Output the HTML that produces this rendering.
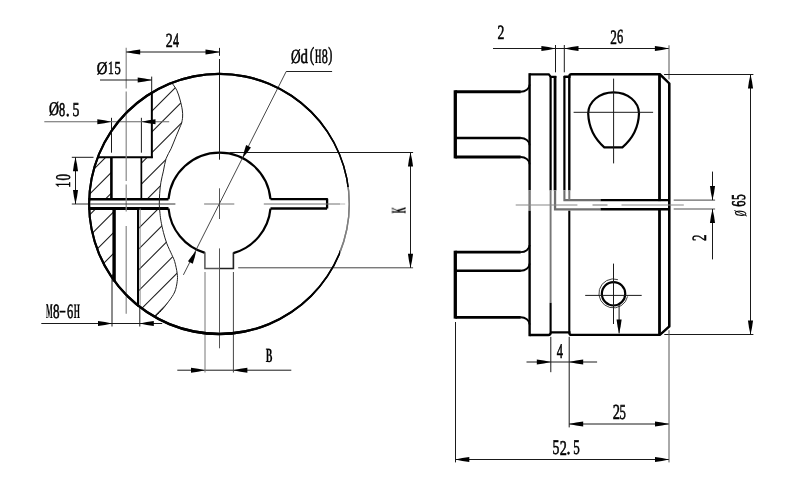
<!DOCTYPE html>
<html><head><meta charset="utf-8"><style>
html,body{margin:0;padding:0;background:#fff;width:800px;height:493px;overflow:hidden}
svg{display:block}
text{fill:#000;font-family:"Liberation Serif",serif}
</style></head><body>
<svg width="800" height="493" viewBox="0 0 800 493" shape-rendering="geometricPrecision">
<rect width="800" height="493" fill="#fff"/>
<defs><clipPath id="sec"><path d="M 171.75,82.76 C 172.59,84.02 175.41,87.43 176.80,90.30 C 178.19,93.17 179.18,96.72 180.10,100.00 C 181.02,103.28 181.88,107.17 182.30,110.00 C 182.72,112.83 182.70,114.83 182.60,117.00 C 182.50,119.17 181.85,122.00 181.70,123.00 C 180.75,125.27 177.78,132.30 176.00,136.60 C 174.22,140.90 172.65,145.15 171.00,148.80 C 169.35,152.45 167.37,154.78 166.10,158.50 C 164.83,162.22 164.27,167.13 163.40,171.10 C 162.53,175.07 161.52,178.58 160.90,182.30 C 160.28,186.02 159.97,189.68 159.70,193.40 C 159.43,197.12 159.25,201.25 159.30,204.60 C 159.35,207.95 159.72,210.73 160.00,213.50 C 160.28,216.27 160.43,218.07 161.00,221.20 C 161.57,224.33 162.43,228.58 163.40,232.30 C 164.37,236.02 165.40,239.77 166.80,243.50 C 168.20,247.23 170.48,251.68 171.80,254.70 C 173.12,257.72 173.80,258.47 174.70,261.60 C 175.60,264.73 176.78,270.20 177.20,273.50 C 177.62,276.80 177.62,278.32 177.20,281.40 C 176.78,284.48 176.10,288.70 174.70,292.00 C 173.30,295.30 171.00,298.13 168.80,301.20 C 166.60,304.27 163.82,307.77 161.50,310.40 C 159.18,313.03 156.00,315.90 154.90,317.00 A 130.1 130.1 0 0 1 171.75,82.76 Z"/></clipPath></defs>
<g clip-path="url(#sec)" stroke="#1a1a1a" stroke-width="1.05">
<line x1="80" y1="120.60" x2="200" y2="0.60"/>
<line x1="80" y1="141.40" x2="200" y2="21.40"/>
<line x1="80" y1="162.20" x2="200" y2="42.20"/>
<line x1="80" y1="183.00" x2="200" y2="63.00"/>
<line x1="80" y1="203.80" x2="200" y2="83.80"/>
<line x1="80" y1="224.60" x2="200" y2="104.60"/>
<line x1="80" y1="245.40" x2="200" y2="125.40"/>
<line x1="80" y1="266.20" x2="200" y2="146.20"/>
<line x1="80" y1="287.00" x2="200" y2="167.00"/>
<line x1="80" y1="307.80" x2="200" y2="187.80"/>
<line x1="80" y1="328.60" x2="200" y2="208.60"/>
<line x1="80" y1="349.40" x2="200" y2="229.40"/>
<line x1="80" y1="370.20" x2="200" y2="250.20"/>
<line x1="80" y1="391.00" x2="200" y2="271.00"/>
<line x1="80" y1="411.80" x2="200" y2="291.80"/>
<line x1="80" y1="432.60" x2="200" y2="312.60"/>
<line x1="80" y1="453.40" x2="200" y2="333.40"/>
<line x1="80" y1="474.20" x2="200" y2="354.20"/>
<line x1="80" y1="495.00" x2="200" y2="375.00"/>
</g>
<rect x="96" y="60" width="55.85" height="97.15" fill="#fff"/>
<rect x="111.4" y="157" width="29.95" height="42.20" fill="#fff"/>
<rect x="85" y="199.2" width="85" height="9.30" fill="#fff"/>
<rect x="114.1" y="208.5" width="23.90" height="111.50" fill="#fff"/>
<path fill="#000" fill-rule="evenodd" d="M 88.100,203.9 a 130.950,131.250 0 1 0 261.900,0 a 130.950,131.250 0 1 0 -261.900,0 Z M 90.100,203.9 a 129.250,128.950 0 1 0 258.500,0 a 129.250,128.950 0 1 0 -258.500,0 Z"/>
<path d="M 270.48,199.1 A 51.2 51.2 0 0 0 168.51,199.2 M 168.52,208.5 A 51.2 51.2 0 0 0 204.9,252.87 M 233.4,253.08 A 51.2 51.2 0 0 0 270.47,208.6" stroke="#000" stroke-width="2.2" fill="none" />
<path d="M 204.9,252.37 L 204.9,268.5 L 218.9,268.5" stroke="#555" stroke-width="1.5" fill="none" />
<path d="M 218.9,268.5 L 233.4,268.5 L 233.4,252.58" stroke="#222" stroke-width="1.6" fill="none" />
<path d="M 270.48,199.1 L 327.1,199.1 L 327.1,208.6" stroke="#000" stroke-width="2.3" fill="none" stroke-linejoin="round"/>
<path d="M 327.1,208.6 L 270.47,208.6" stroke="#000" stroke-width="2.5" fill="none" />
<line x1="88.38" y1="199.20" x2="168.51" y2="199.20" stroke="#000" stroke-width="2.4" />
<line x1="88.38" y1="208.50" x2="168.52" y2="208.50" stroke="#000" stroke-width="2.8" />
<line x1="151.85" y1="92.59" x2="151.85" y2="158.10" stroke="#000" stroke-width="2.0" />
<line x1="97.79" y1="157.15" x2="152.80" y2="157.15" stroke="#000" stroke-width="2.0" />
<line x1="111.40" y1="157.00" x2="111.40" y2="199.20" stroke="#000" stroke-width="2.6" />
<line x1="141.35" y1="157.00" x2="141.35" y2="199.20" stroke="#000" stroke-width="1.7" />
<line x1="114.10" y1="208.50" x2="114.10" y2="281.58" stroke="#000" stroke-width="3.4" />
<line x1="138.00" y1="208.50" x2="138.00" y2="306.55" stroke="#000" stroke-width="2.0" />
<line x1="140.10" y1="208.50" x2="140.10" y2="307.19" stroke="#888" stroke-width="1.0" />
<path d="M 171.75,82.76 C 172.59,84.02 175.41,87.43 176.80,90.30 C 178.19,93.17 179.18,96.72 180.10,100.00 C 181.02,103.28 181.88,107.17 182.30,110.00 C 182.72,112.83 182.70,114.83 182.60,117.00 C 182.50,119.17 181.85,122.00 181.70,123.00 C 180.75,125.27 177.78,132.30 176.00,136.60 C 174.22,140.90 172.65,145.15 171.00,148.80 C 169.35,152.45 167.37,154.78 166.10,158.50 C 164.83,162.22 164.27,167.13 163.40,171.10 C 162.53,175.07 161.52,178.58 160.90,182.30 C 160.28,186.02 159.97,189.68 159.70,193.40 C 159.43,197.12 159.25,201.25 159.30,204.60 C 159.35,207.95 159.72,210.73 160.00,213.50 C 160.28,216.27 160.43,218.07 161.00,221.20 C 161.57,224.33 162.43,228.58 163.40,232.30 C 164.37,236.02 165.40,239.77 166.80,243.50 C 168.20,247.23 170.48,251.68 171.80,254.70 C 173.12,257.72 173.80,258.47 174.70,261.60 C 175.60,264.73 176.78,270.20 177.20,273.50 C 177.62,276.80 177.62,278.32 177.20,281.40 C 176.78,284.48 176.10,288.70 174.70,292.00 C 173.30,295.30 171.00,298.13 168.80,301.20 C 166.60,304.27 163.82,307.77 161.50,310.40 C 159.18,313.03 156.00,315.90 154.90,317.00" stroke="#222" stroke-width="1.0" fill="none" />
<line x1="126.20" y1="47.70" x2="126.20" y2="88.40" stroke="#888" stroke-width="1.2" />
<line x1="126.20" y1="91.60" x2="126.20" y2="181.00" stroke="#888" stroke-width="1.2" />
<line x1="126.20" y1="184.50" x2="126.20" y2="211.40" stroke="#888" stroke-width="1.2" />
<line x1="126.20" y1="226.00" x2="126.20" y2="313.70" stroke="#888" stroke-width="1.2" />
<line x1="219.50" y1="47.90" x2="219.50" y2="55.80" stroke="#1a1a1a" stroke-width="1.0" />
<line x1="219.50" y1="59.00" x2="219.50" y2="159.70" stroke="#1a1a1a" stroke-width="1.0" />
<line x1="219.50" y1="188.30" x2="219.50" y2="219.00" stroke="#555" stroke-width="1.0" />
<line x1="219.50" y1="248.40" x2="219.50" y2="348.30" stroke="#555" stroke-width="1.0" />
<line x1="71.80" y1="204.00" x2="175.40" y2="204.00" stroke="#333" stroke-width="1.0" />
<line x1="204.10" y1="204.00" x2="234.30" y2="204.00" stroke="#888" stroke-width="1.2" />
<line x1="263.80" y1="204.00" x2="345.20" y2="204.00" stroke="#707070" stroke-width="1.0" />
<line x1="111.50" y1="117.80" x2="111.50" y2="152.70" stroke="#1a1a1a" stroke-width="1.0" />
<line x1="141.40" y1="117.80" x2="141.40" y2="152.70" stroke="#1a1a1a" stroke-width="1.0" />
<line x1="151.70" y1="76.60" x2="151.70" y2="92.68" stroke="#1a1a1a" stroke-width="1.0" />
<line x1="126.20" y1="52.00" x2="219.50" y2="52.00" stroke="#1a1a1a" stroke-width="1.0" />
<polygon points="126.20,52.00 133.20,50.47 140.20,49.45 140.20,54.55 133.20,53.53" fill="#000"/>
<polygon points="219.50,52.00 212.50,53.53 205.50,54.55 205.50,49.45 212.50,50.47" fill="#000"/>
<line x1="100.00" y1="80.00" x2="151.70" y2="80.00" stroke="#1a1a1a" stroke-width="1.0" />
<polygon points="151.70,80.00 144.70,81.53 137.70,82.55 137.70,77.45 144.70,78.47" fill="#000"/>
<line x1="44.30" y1="121.70" x2="169.20" y2="121.70" stroke="#666" stroke-width="1.1" />
<polygon points="111.30,121.70 104.30,123.23 97.30,124.25 97.30,119.15 104.30,120.17" fill="#000"/>
<polygon points="141.50,121.70 148.50,120.17 155.50,119.15 155.50,124.25 148.50,123.23" fill="#000"/>
<line x1="71.80" y1="157.30" x2="93.50" y2="157.30" stroke="#1a1a1a" stroke-width="1.0" />
<line x1="75.50" y1="157.30" x2="75.50" y2="204.00" stroke="#1a1a1a" stroke-width="1.0" />
<polygon points="75.50,157.30 77.03,164.30 78.05,171.30 72.95,171.30 73.97,164.30" fill="#000"/>
<polygon points="75.50,204.00 73.97,197.00 72.95,190.00 78.05,190.00 77.03,197.00" fill="#000"/>
<line x1="41.30" y1="323.50" x2="162.20" y2="323.50" stroke="#1a1a1a" stroke-width="1.0" />
<polygon points="112.00,323.50 105.00,325.03 98.00,326.05 98.00,320.95 105.00,321.97" fill="#000"/>
<polygon points="139.80,323.50 146.80,321.97 153.80,320.95 153.80,326.05 146.80,325.03" fill="#000"/>
<line x1="112.00" y1="277.62" x2="112.00" y2="326.50" stroke="#1a1a1a" stroke-width="1.0" />
<line x1="139.80" y1="306.96" x2="139.80" y2="326.50" stroke="#1a1a1a" stroke-width="1.0" />
<line x1="177.30" y1="370.20" x2="291.30" y2="370.20" stroke="#1a1a1a" stroke-width="1.0" />
<polygon points="205.00,370.20 198.00,371.73 191.00,372.75 191.00,367.65 198.00,368.67" fill="#000"/>
<polygon points="233.40,370.20 240.40,368.67 247.40,367.65 247.40,372.75 240.40,371.73" fill="#000"/>
<line x1="205.00" y1="272.00" x2="205.00" y2="372.50" stroke="#777" stroke-width="1.0" />
<line x1="233.40" y1="272.00" x2="233.40" y2="372.50" stroke="#444" stroke-width="1.0" />
<line x1="229.70" y1="152.50" x2="413.10" y2="152.50" stroke="#1a1a1a" stroke-width="1.0" />
<line x1="238.20" y1="267.80" x2="413.10" y2="267.80" stroke="#444" stroke-width="1.0" />
<line x1="410.50" y1="152.50" x2="410.50" y2="267.80" stroke="#1a1a1a" stroke-width="1.0" />
<polygon points="410.50,152.50 412.03,159.50 413.05,166.50 407.95,166.50 408.97,159.50" fill="#000"/>
<polygon points="410.50,267.80 408.97,260.80 407.95,253.80 413.05,253.80 412.03,260.80" fill="#000"/>
<path d="M 183.4,274.9 L 286.2,71.5" stroke="#333" stroke-width="0.9" fill="none" />
<path d="M 286.2,71.5 L 332.1,71.5" stroke="#222" stroke-width="1.0" fill="none" />
<polygon points="242.70,157.80 244.17,151.27 246.13,144.97 250.95,147.40 247.07,152.72" fill="#000"/>
<polygon points="196.20,250.80 194.73,257.33 192.77,263.63 187.95,261.20 191.83,255.88" fill="#000"/>
<path fill="#000" fill-rule="evenodd" d="M 88.100,203.9 a 130.950,131.250 0 1 0 261.900,0 a 130.950,131.250 0 1 0 -261.900,0 Z M 90.100,203.9 a 129.250,128.950 0 1 0 258.500,0 a 129.250,128.950 0 1 0 -258.500,0 Z"/>
<rect x="340" y="187" width="16" height="70" fill="#fff" fill-opacity="0.5"/>
<path d="M 455.3,91.75 L 520.70,91.75" stroke="#000" stroke-width="3.1" fill="none" />
<path d="M 520.20,91.75 A 8.9 7.2 0 0 0 529.6,84.55" stroke="#000" stroke-width="1.9" fill="none" />
<path d="M 455.3,138.0 L 520.70,138.0" stroke="#000" stroke-width="2.5" fill="none" />
<path d="M 520.20,138.0 A 8.9 7.2 0 0 1 529.6,145.20" stroke="#000" stroke-width="1.9" fill="none" />
<path d="M 455.3,157.0 L 520.70,157.0" stroke="#000" stroke-width="2.8" fill="none" />
<path d="M 520.20,157.0 A 8.9 7.2 0 0 1 529.6,164.20" stroke="#000" stroke-width="1.9" fill="none" />
<path d="M 455.3,252.1 L 520.70,252.1" stroke="#000" stroke-width="2.8" fill="none" />
<path d="M 520.20,252.1 A 8.9 7.2 0 0 0 529.6,244.90" stroke="#000" stroke-width="1.9" fill="none" />
<path d="M 455.3,270.8 L 520.70,270.8" stroke="#000" stroke-width="2.5" fill="none" />
<path d="M 520.20,270.8 A 8.9 7.2 0 0 0 529.6,263.60" stroke="#000" stroke-width="1.9" fill="none" />
<path d="M 455.3,317.3 L 520.70,317.3" stroke="#000" stroke-width="2.7" fill="none" />
<path d="M 520.20,317.3 A 8.9 7.2 0 0 1 529.6,324.50" stroke="#000" stroke-width="1.9" fill="none" />
<line x1="455.30" y1="90.25" x2="455.30" y2="158.40" stroke="#000" stroke-width="3.3" />
<line x1="455.30" y1="250.70" x2="455.30" y2="318.60" stroke="#000" stroke-width="3.3" />
<line x1="529.60" y1="73.20" x2="529.60" y2="190.40" stroke="#000" stroke-width="2.4" />
<line x1="529.60" y1="190.40" x2="529.60" y2="210.70" stroke="#777" stroke-width="2.4" />
<line x1="529.60" y1="210.70" x2="529.60" y2="336.20" stroke="#000" stroke-width="2.4" />
<path d="M 529.6,74.3 L 548.8,74.3 L 550.6,76.6 M 550.0,76.8 L 556.3,76.8" stroke="#000" stroke-width="2.2" fill="none" />
<path d="M 529.6,335.0 L 548.4,335.0 Q 550.6,335 550.6,332.8" stroke="#000" stroke-width="2.4" fill="none" />
<line x1="550.60" y1="76.00" x2="550.60" y2="190.40" stroke="#000" stroke-width="2.2" />
<line x1="550.60" y1="190.40" x2="550.60" y2="302.80" stroke="#777" stroke-width="1.9" />
<line x1="550.60" y1="302.80" x2="550.60" y2="333.20" stroke="#000" stroke-width="2.1" />
<line x1="555.05" y1="76.00" x2="555.05" y2="190.40" stroke="#000" stroke-width="2.8" />
<path d="M 555.05,190.4 L 555.05,209.3 L 600.5,209.3" stroke="#6e6e6e" stroke-width="2.3" fill="none" />
<line x1="564.40" y1="76.00" x2="564.40" y2="190.40" stroke="#000" stroke-width="2.2" />
<path d="M 564.4,190.4 L 564.4,200.1 L 600.5,200.1" stroke="#6e6e6e" stroke-width="2.1" fill="none" />
<line x1="569.30" y1="76.00" x2="569.30" y2="190.40" stroke="#000" stroke-width="2.4" />
<line x1="569.30" y1="190.40" x2="569.30" y2="200.10" stroke="#777" stroke-width="2.0" />
<line x1="569.30" y1="210.70" x2="569.30" y2="333.00" stroke="#000" stroke-width="2.1" />
<path d="M 563.8,76.8 L 569.3,76.8 Q 569.3,74.3 571.5,74.3 L 659.9,74.3 L 669.3,83.4 L 669.3,326.4 L 659.9,334.9 L 571.5,334.9 Q 569.3,334.9 569.3,332.4 L 550.6,332.4" stroke="#000" stroke-width="2.4" fill="none" />
<line x1="659.50" y1="74.30" x2="659.50" y2="201.10" stroke="#000" stroke-width="2.8" />
<line x1="659.50" y1="208.10" x2="659.50" y2="334.90" stroke="#000" stroke-width="2.8" />
<line x1="669.10" y1="83.40" x2="669.10" y2="326.40" stroke="#000" stroke-width="2.1" />
<line x1="600.50" y1="200.10" x2="668.50" y2="200.10" stroke="#000" stroke-width="2.1" />
<line x1="600.50" y1="209.30" x2="668.50" y2="209.30" stroke="#000" stroke-width="2.5" />
<line x1="515.70" y1="205.00" x2="577.40" y2="205.00" stroke="#888" stroke-width="1.2" />
<line x1="592.50" y1="205.00" x2="607.50" y2="205.00" stroke="#888" stroke-width="1.2" />
<line x1="621.50" y1="205.00" x2="683.80" y2="205.00" stroke="#888" stroke-width="1.2" />
<path d="M 604.3,147.3 L 622.4,147.3 C 631,140 638.5,128 639.0,113.5 A 25.4 21.2 0 0 0 588.2,113.5 C 588.7,128 596,140 604.3,147.3 Z" stroke="#000" stroke-width="2.2" fill="none" />
<line x1="573.60" y1="112.30" x2="653.10" y2="112.30" stroke="#1a1a1a" stroke-width="1.0" />
<line x1="613.60" y1="78.60" x2="613.60" y2="163.40" stroke="#1a1a1a" stroke-width="1.0" />
<circle cx="613.55" cy="293.8" r="11.7" fill="none" stroke="#000" stroke-width="2.2"/>
<path d="M 617.88,279.61 A 14.5 14.5 0 1 0 627.58,296.41" stroke="#444" stroke-width="1.0" fill="none" />
<line x1="585.20" y1="295.40" x2="641.70" y2="295.40" stroke="#1a1a1a" stroke-width="1.0" />
<line x1="613.50" y1="263.60" x2="613.50" y2="324.00" stroke="#1a1a1a" stroke-width="1.0" />
<line x1="619.10" y1="305.00" x2="619.10" y2="333.40" stroke="#1a1a1a" stroke-width="1.0" />
<polygon points="619.10,333.40 617.57,326.40 616.55,319.40 621.65,319.40 620.63,326.40" fill="#000"/>
<line x1="493.00" y1="48.50" x2="668.90" y2="48.50" stroke="#1a1a1a" stroke-width="1.0" />
<polygon points="555.40,48.50 548.40,50.03 541.40,51.05 541.40,45.95 548.40,46.97" fill="#000"/>
<polygon points="564.50,48.50 571.50,46.97 578.50,45.95 578.50,51.05 571.50,50.03" fill="#000"/>
<polygon points="668.90,48.50 661.90,50.03 654.90,51.05 654.90,45.95 661.90,46.97" fill="#000"/>
<line x1="555.50" y1="45.00" x2="555.50" y2="72.30" stroke="#1a1a1a" stroke-width="1.0" />
<line x1="564.30" y1="45.00" x2="564.30" y2="72.30" stroke="#1a1a1a" stroke-width="1.0" />
<line x1="669.00" y1="45.30" x2="669.00" y2="79.40" stroke="#555" stroke-width="1.0" />
<line x1="664.10" y1="74.50" x2="753.40" y2="74.50" stroke="#1a1a1a" stroke-width="1.0" />
<line x1="664.30" y1="334.50" x2="753.40" y2="334.50" stroke="#1a1a1a" stroke-width="1.0" />
<line x1="750.50" y1="74.50" x2="750.50" y2="334.50" stroke="#1a1a1a" stroke-width="1.0" />
<polygon points="750.50,74.50 752.03,81.50 753.05,88.50 747.95,88.50 748.97,81.50" fill="#000"/>
<polygon points="750.50,334.50 748.97,327.50 747.95,320.50 753.05,320.50 752.03,327.50" fill="#000"/>
<line x1="673.70" y1="200.10" x2="715.10" y2="200.10" stroke="#444" stroke-width="1.0" />
<line x1="673.70" y1="209.00" x2="715.10" y2="209.00" stroke="#888" stroke-width="1.3" />
<line x1="712.50" y1="171.60" x2="712.50" y2="200.10" stroke="#1a1a1a" stroke-width="1.0" />
<polygon points="712.50,200.10 710.97,193.10 709.95,186.10 715.05,186.10 714.03,193.10" fill="#000"/>
<line x1="712.50" y1="209.00" x2="712.50" y2="259.40" stroke="#1a1a1a" stroke-width="1.0" />
<polygon points="712.50,209.00 714.03,216.00 715.05,223.00 709.95,223.00 710.97,216.00" fill="#000"/>
<line x1="550.80" y1="336.80" x2="550.80" y2="372.20" stroke="#1a1a1a" stroke-width="1.0" />
<line x1="569.20" y1="336.80" x2="569.20" y2="427.40" stroke="#1a1a1a" stroke-width="1.0" />
<line x1="526.50" y1="362.00" x2="597.10" y2="362.00" stroke="#1a1a1a" stroke-width="1.0" />
<polygon points="550.80,362.00 543.80,363.53 536.80,364.55 536.80,359.45 543.80,360.47" fill="#000"/>
<polygon points="569.20,362.00 576.20,360.47 583.20,359.45 583.20,364.55 576.20,363.53" fill="#000"/>
<line x1="569.20" y1="424.00" x2="669.00" y2="424.00" stroke="#1a1a1a" stroke-width="1.0" />
<polygon points="569.20,424.00 576.20,422.47 583.20,421.45 583.20,426.55 576.20,425.53" fill="#000"/>
<polygon points="669.00,424.00 662.00,425.53 655.00,426.55 655.00,421.45 662.00,422.47" fill="#000"/>
<line x1="455.30" y1="459.50" x2="669.00" y2="459.50" stroke="#1a1a1a" stroke-width="1.0" />
<polygon points="455.30,459.50 462.30,457.97 469.30,456.95 469.30,462.05 462.30,461.03" fill="#000"/>
<polygon points="669.00,459.50 662.00,461.03 655.00,462.05 655.00,456.95 662.00,457.97" fill="#000"/>
<line x1="455.50" y1="322.00" x2="455.50" y2="462.40" stroke="#1a1a1a" stroke-width="1.0" />
<line x1="669.00" y1="330.20" x2="669.00" y2="462.40" stroke="#555" stroke-width="1.0" />
<g style="opacity:0.999" fill="#000" stroke="#000" stroke-width="0.6" text-rendering="geometricPrecision">
<text transform="translate(165.72,46.65) scale(0.700,1)" font-family="Liberation Serif" font-size="20.00">2</text>
<text transform="translate(173.01,46.75) scale(0.593,1)" font-family="Liberation Serif" font-size="20.31">4</text>
<text transform="translate(96.76,73.62) scale(0.828,1)" font-family="Liberation Serif" font-size="17.73">Ø</text>
<text transform="translate(108.02,74.35) scale(0.614,1)" font-family="Liberation Serif" font-size="18.63">1</text>
<text transform="translate(114.60,74.17) scale(0.681,1)" font-family="Liberation Serif" font-size="18.35">5</text>
<text transform="translate(48.90,115.47) scale(0.713,1)" font-family="Liberation Serif" font-size="19.29">Ø</text>
<text transform="translate(59.05,115.86) scale(0.640,1)" font-family="Liberation Serif" font-size="19.33">8</text>
<text transform="translate(65.81,115.75) scale(0.800,1)" font-family="Liberation Serif" font-size="20.00">.</text>
<text transform="translate(72.42,115.85) scale(0.701,1)" font-family="Liberation Serif" font-size="19.62">5</text>
<text transform="translate(70.45,187.50) rotate(-90) scale(0.544,1)" font-family="Liberation Serif" font-size="21.53">1</text>
<text transform="translate(70.24,180.46) rotate(-90) scale(0.616,1)" font-family="Liberation Serif" font-size="20.89">0</text>
<text transform="translate(46.04,318.35) scale(0.340,1)" font-family="Liberation Serif" font-size="20.92" font-weight="bold" stroke-width="0.2">M</text>
<text transform="translate(53.03,318.15) scale(0.650,1)" font-family="Liberation Serif" font-size="20.15">8</text>
<text transform="translate(59.36,315.28) scale(1.337,1)" font-family="Liberation Serif" font-size="14.67">-</text>
<text transform="translate(66.89,318.15) scale(0.614,1)" font-family="Liberation Serif" font-size="20.30">6</text>
<text transform="translate(73.63,318.35) scale(0.381,1)" font-family="Liberation Serif" font-size="20.76" font-weight="bold" stroke-width="0.2">H</text>
<text transform="translate(290.92,62.65) scale(0.664,1)" font-family="Liberation Serif" font-size="20.00">Ø</text>
<text transform="translate(300.43,62.75) scale(0.742,1)" font-family="Liberation Serif" font-size="20.14">d</text>
<text transform="translate(309.85,61.25) scale(0.667,1)" font-family="Liberation Serif" font-size="20.00">(</text>
<text transform="translate(314.93,63.25) scale(0.394,1)" font-family="Liberation Serif" font-size="20.76" font-weight="bold" stroke-width="0.2">H</text>
<text transform="translate(321.66,63.05) scale(0.594,1)" font-family="Liberation Serif" font-size="20.44">8</text>
<text transform="translate(328.28,61.25) scale(0.615,1)" font-family="Liberation Serif" font-size="20.00">)</text>
<text transform="translate(265.80,361.75) scale(0.492,1)" font-family="Liberation Serif" font-size="20.15" font-weight="bold" stroke-width="0.2">B</text>
<text transform="translate(405.55,213.47) rotate(-90) scale(0.392,1)" font-family="Liberation Serif" font-size="20.62" font-weight="bold" stroke-width="0.2">K</text>
<text transform="translate(497.43,38.75) scale(0.682,1)" font-family="Liberation Serif" font-size="20.15">2</text>
<text transform="translate(610.35,43.55) scale(0.653,1)" font-family="Liberation Serif" font-size="20.30">2</text>
<text transform="translate(617.09,43.35) scale(0.624,1)" font-family="Liberation Serif" font-size="20.00">6</text>
<text transform="translate(705.65,240.94) rotate(-90) scale(0.645,1)" font-family="Liberation Serif" font-size="20.15">2</text>
<text transform="translate(744.91,206.67) rotate(-90) scale(0.638,1)" font-family="Liberation Sans" font-size="19.44" stroke-width="0.75">6</text>
<text transform="translate(744.90,199.90) rotate(-90) scale(0.577,1)" font-family="Liberation Sans" font-size="19.71" stroke-width="0.75">5</text>
<text transform="translate(745.80,216.15) rotate(-90) scale(0.508,1)" font-family="Liberation Sans" font-size="23.54" stroke-width="0.1" font-style="italic">ø</text>
<text transform="translate(556.70,357.75) scale(0.601,1)" font-family="Liberation Serif" font-size="20.77">4</text>
<text transform="translate(612.70,419.45) scale(0.679,1)" font-family="Liberation Serif" font-size="21.36">2</text>
<text transform="translate(619.38,419.24) scale(0.601,1)" font-family="Liberation Serif" font-size="21.20">5</text>
<text transform="translate(552.62,454.34) scale(0.663,1)" font-family="Liberation Serif" font-size="20.75">5</text>
<text transform="translate(559.71,454.55) scale(0.682,1)" font-family="Liberation Serif" font-size="20.91">2</text>
<text transform="translate(566.41,454.25) scale(0.800,1)" font-family="Liberation Serif" font-size="20.00">.</text>
<text transform="translate(573.37,454.34) scale(0.626,1)" font-family="Liberation Serif" font-size="20.75">5</text>
</g>
</svg>
</body></html>
